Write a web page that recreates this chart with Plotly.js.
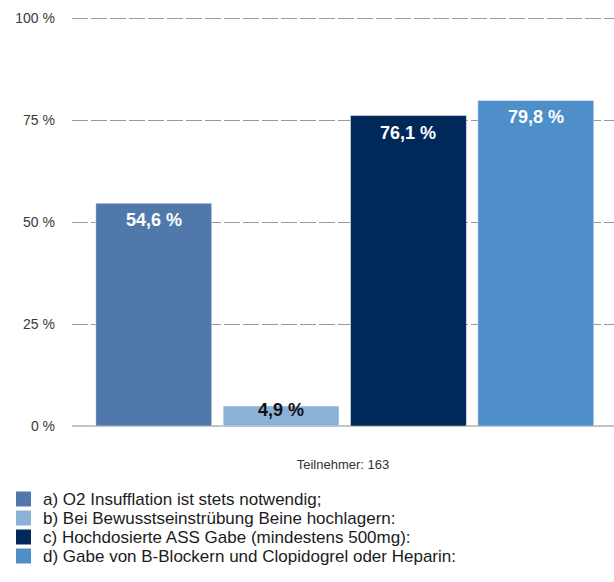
<!DOCTYPE html>
<html>
<head>
<meta charset="utf-8">
<script src="https://cdn.plot.ly/plotly-3.0.1.min.js"></script>
<style>html,body{margin:0;padding:0;background:#fff;}#chart{width:614px;height:582px;}</style>
</head>
<body>
<div id="chart"></div>
<script>
// ---- data ----
var categories = [
  "a) O2 Insufflation ist stets notwendig;",
  "b) Bei Bewusstseinstrübung Beine hochlagern:",
  "c) Hochdosierte ASS Gabe (mindestens 500mg):",
  "d) Gabe von B-Blockern und Clopidogrel oder Heparin:"
];
var values = [54.6, 4.9, 76.1, 79.8];
var colors = ["#5078aa", "#8cb1d6", "#002859", "#4e8fca"];
var labelColors = ["#ffffff", "#111111", "#ffffff", "#ffffff"];
var tickVals = [0, 25, 50, 75, 100];
var tickText = ["0 %", "25 %", "50 %", "75 %", "100 %"];
var axisTitle = "Teilnehmer: 163";

// ---- layout helpers ----
var W = 614, H = 582;
var M = {l: 72, r: 0, t: 17, b: 156};
var PW = W - M.l - M.r, PH = H - M.t - M.b;
var YMAX = 100.25;
function px(x) { return (x - M.l) / PW; }
function py(y) { return (H - M.b - y) / PH; }

function fmt(v) { return v.toFixed(1).replace('.', ',') + ' %'; }

var traces = categories.map(function (c, i) {
  return {
    type: 'bar',
    x: [c],
    y: [values[i]],
    width: 0.91,
    marker: {color: colors[i], line: {color: 'rgba(255,255,255,0.45)', width: 1}},
    hoverinfo: 'skip',
    showlegend: false
  };
});

var shapes = [], annotations = [];
// value labels near the top of each bar
categories.forEach(function (c, i) {
  var hPx = values[i] / YMAX * PH;
  annotations.push({
    xref: 'x', yref: 'y', x: c, y: values[i],
    xanchor: 'center', yanchor: 'middle', showarrow: false,
    yshift: hPx < 30 ? -4 : -17,
    text: '<b>' + fmt(values[i]) + '</b>',
    font: {family: 'Liberation Sans, Arial, sans-serif', size: 18, color: labelColors[i]}
  });
});
// legend rows
var rowY = [499, 518, 537, 556];
categories.forEach(function (c, i) {
  shapes.push({
    type: 'rect', xref: 'paper', yref: 'paper', layer: 'above',
    x0: px(16), x1: px(31), y0: py(rowY[i] + 7.5), y1: py(rowY[i] - 7.5),
    fillcolor: colors[i], line: {width: 0}
  });
  annotations.push({
    xref: 'paper', yref: 'paper', x: px(42), y: py(rowY[i]),
    xanchor: 'left', yanchor: 'middle', showarrow: false, borderpad: 0,
    text: c,
    font: {family: 'Liberation Sans, Arial, sans-serif', size: 17, color: '#1c1c1c'}
  });
});

var layout = {
  width: W, height: H,
  margin: M,
  paper_bgcolor: '#ffffff', plot_bgcolor: '#ffffff',
  barmode: 'overlay',
  showlegend: false,
  xaxis: {
    type: 'category',
    categoryorder: 'array', categoryarray: categories,
    range: [-0.642, 3.614],
    showticklabels: false, ticks: '', showgrid: false, zeroline: false, showline: false,
    fixedrange: true,
    title: {text: axisTitle, standoff: 33,
      font: {family: 'Liberation Sans, Arial, sans-serif', size: 13, color: '#333333'}}
  },
  yaxis: {
    range: [0, YMAX],
    tickvals: tickVals, ticktext: tickText,
    ticks: '', ticklabelstandoff: 16,
    tickfont: {family: 'Liberation Sans, Arial, sans-serif', size: 14, color: '#3a3a3a'},
    showgrid: true, gridcolor: '#9a9a9a', gridwidth: 1, griddash: '16px,3px',
    zeroline: true, zerolinecolor: '#c4c4c4', zerolinewidth: 2,
    showline: false, fixedrange: true
  },
  shapes: shapes,
  annotations: annotations
};

Plotly.newPlot('chart', traces, layout, {displayModeBar: false, staticPlot: true});
</script>
</body>
</html>
